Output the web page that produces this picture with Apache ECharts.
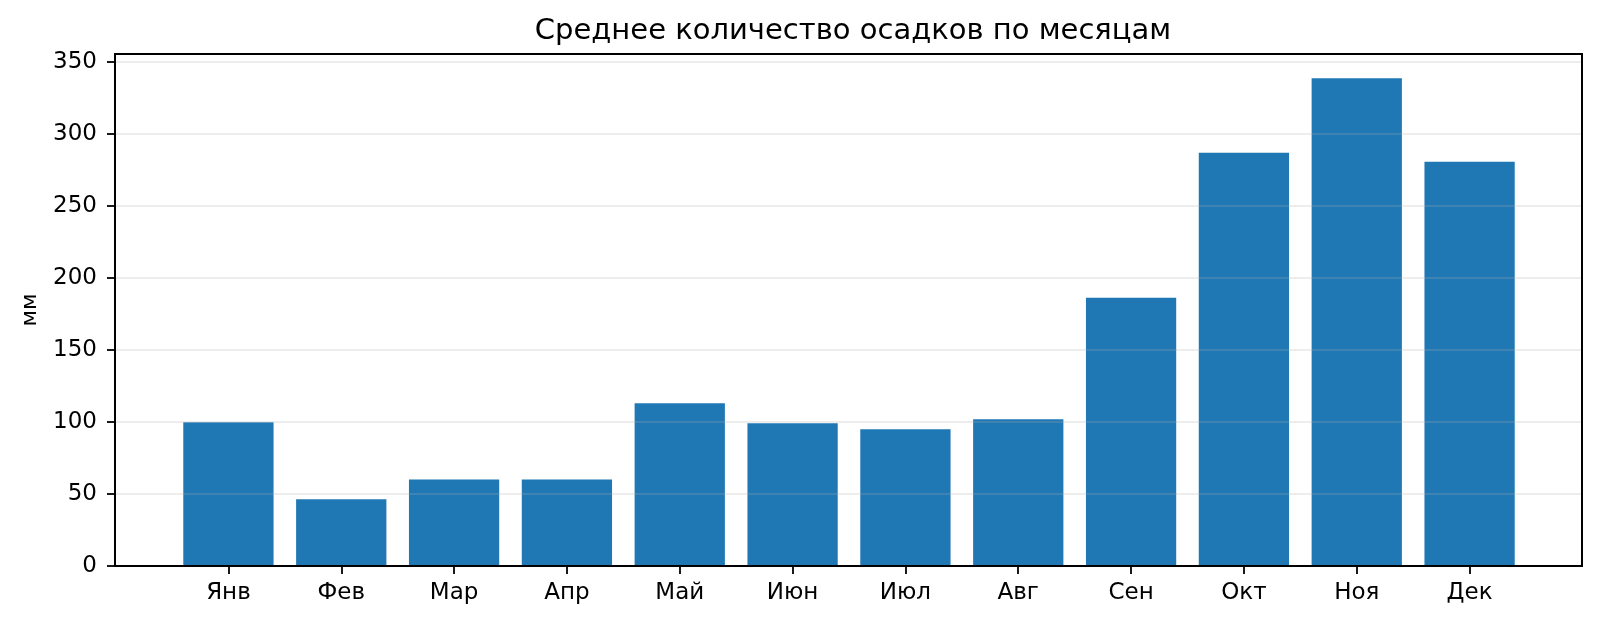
<!DOCTYPE html>
<html>
<head>
    <meta charset="UTF-8">
    <title>Осадки по месяцам</title>
    <script src="https://cdn.jsdelivr.net/npm/echarts@6/dist/echarts.min.js"></script>
    <style>
      html, body{
        margin: 0;
        padding: 0;
        background: #fff;
      }
      #container{
        width: 1600px;
        height: 625px;
      }
    </style>
</head>
<body>
<div id="container"></div>
<script>
    var months = ['Янв', 'Фев', 'Мар', 'Апр', 'Май', 'Июн', 'Июл', 'Авг', 'Сен', 'Окт', 'Ноя', 'Дек']
    var rainfall = [99.8, 46.3, 60.1, 60.1, 113.0, 99.1, 94.9, 101.9, 186.2, 286.8, 338.4, 280.5]
    var yTicks = [0, 50, 100, 150, 200, 250, 300, 350]
    var yMax = 355.3   // matplotlib-like headroom

    var font = 'DejaVu Sans'
    var dom = document.getElementById('container')
    var myChart = echarts.init(dom, null, {renderer: 'canvas'})

    var option = {
        backgroundColor: '#ffffff',
        animation: false,
        title: {
            text: 'Среднее количество осадков по месяцам',
            left: 848,
            textAlign: 'center',
            top: 12,
            textStyle: {
                fontFamily: font,
                fontSize: 29,
                fontWeight: 'normal',
                color: '#000'
            }
        },
        grid: [
            // frame with y axis
            {left: 115, right: 18, top: 54, bottom: 59, show: true, borderColor: '#000', borderWidth: 2, z: 5},
            // bars, with the side margins matplotlib leaves
            {left: 172, right: 74, top: 54, bottom: 59}
        ],
        xAxis: [
            {gridIndex: 0, type: 'value', min: 0, max: 1, show: false},
            {
                gridIndex: 1,
                type: 'category',
                data: months,
                axisLine: {show: false},
                axisTick: {show: true, alignWithLabel: true, length: 8, lineStyle: {color: '#000', width: 1.8}},
                axisLabel: {margin: 16, fontFamily: font, fontSize: 23, color: '#000'}
            }
        ],
        yAxis: [
            {
                gridIndex: 0,
                type: 'value',
                min: 0,
                max: yMax,
                interval: 50,
                z: 4,
                name: 'мм',
                nameLocation: 'middle',
                nameGap: 74,
                nameTextStyle: {fontFamily: font, fontSize: 22, color: '#000'},
                axisLine: {show: false},
                axisTick: {show: true, length: 8, lineStyle: {color: '#000', width: 1.8}},
                axisLabel: {
                    margin: 18,
                    fontFamily: font,
                    fontSize: 23,
                    color: '#000',
                    showMaxLabel: false,
                    formatter: function (v) {
                        return yTicks.indexOf(v) >= 0 ? String(v) : ''
                    }
                },
                splitLine: {show: true, lineStyle: {color: 'rgba(176,176,176,0.3)', width: 1.5}}
            },
            {gridIndex: 1, type: 'value', min: 0, max: yMax, show: false}
        ],
        series: [
            {
                name: 'мм',
                type: 'bar',
                xAxisIndex: 1,
                yAxisIndex: 1,
                data: rainfall,
                barWidth: '80%',
                itemStyle: {color: '#1f77b4'}
            }
        ]
    };
    myChart.setOption(option, true);
</script>
</body>
</html>
